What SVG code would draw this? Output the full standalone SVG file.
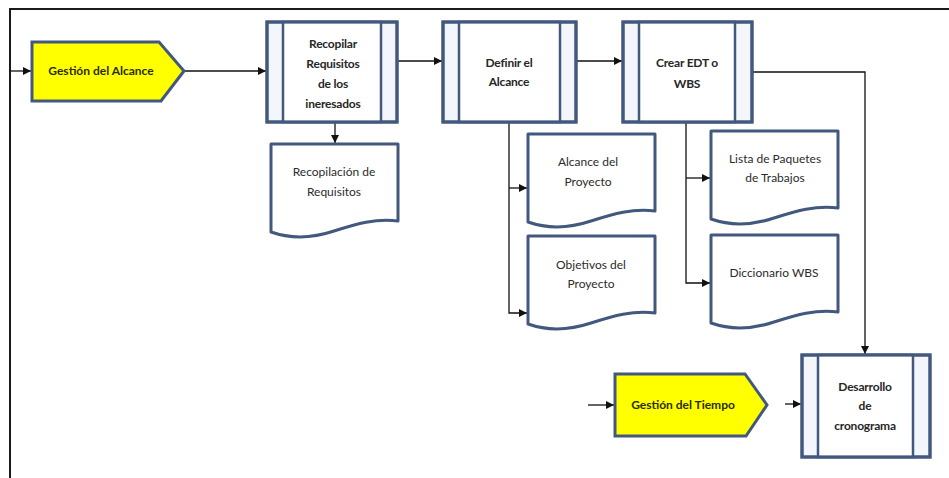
<svg xmlns="http://www.w3.org/2000/svg" width="949" height="478" viewBox="0 0 949 478">
  <style>
    .frame { stroke: #1a1a1a; stroke-width: 2; fill: none; }
    .pent { fill: #ffff00; stroke: #42587e; stroke-width: 3; stroke-linejoin: miter; }
    .proc { fill: #f3f7fc; stroke: #42587e; stroke-width: 3; }
    .inner { fill: #ffffff; stroke: #42587e; stroke-width: 2.5; }
    .edge { fill: none; stroke: #42587e; stroke-width: 3; }
    .doc { fill: #ffffff; stroke: #42587e; stroke-width: 3; stroke-linejoin: round; }
    .conn { fill: none; stroke: #111111; stroke-width: 1.3; }
    text { font-family: Lato, "Liberation Sans", sans-serif; font-size: 12px; text-anchor: middle; fill: #2b2b2b; }
    .b { font-weight: bold; fill: #262626; letter-spacing: -0.2px; }
    .tag { font-weight: bold; fill: #2b2b00; }
  </style>
  <defs>
    <marker id="arr" viewBox="0 0 10 10" refX="10" refY="5" markerWidth="8" markerHeight="8" markerUnits="userSpaceOnUse" orient="auto">
      <path d="M0,0 L10,5 L0,10 Z" fill="#111111"/>
    </marker>
    <!-- document shape, 127 wide with a wavy bottom -->
    <path id="docShape" d="M0,0 H127 V77 C105,74 85,80 63,87 C42,94 20,95 0,88 Z"/>
  </defs>

  <rect width="949" height="478" fill="#ffffff"/>
  <path class="frame" d="M10,478 V9 H949"/>

  <g id="connectors">
    <path class="conn" marker-end="url(#arr)" d="M10,71 H31"/>
    <path class="conn" marker-end="url(#arr)" d="M185,71 H266"/>
    <path class="conn" marker-end="url(#arr)" d="M398,61 H442"/>
    <path class="conn" marker-end="url(#arr)" d="M577,61 H622"/>
    <path class="conn" marker-end="url(#arr)" d="M753,72 H865 V354"/>
    <path class="conn" marker-end="url(#arr)" d="M335,123 V143"/>
    <path class="conn" marker-end="url(#arr)" d="M509,123 V313 H527"/>
    <path class="conn" marker-end="url(#arr)" d="M509,188 H527"/>
    <path class="conn" marker-end="url(#arr)" d="M686,123 V283 H710"/>
    <path class="conn" marker-end="url(#arr)" d="M686,178 H710"/>
    <path class="conn" marker-end="url(#arr)" d="M588,405 H614"/>
    <path class="conn" marker-end="url(#arr)" d="M785,404 H801"/>
  </g>

  <g id="gestion-alcance">
    <path class="pent" d="M32,42 H159 L184,71 L161,101 H32 Z"/>
    <text class="tag" x="101" y="75">Gestión del Alcance</text>
  </g>

  <g id="recopilar">
    <rect class="proc" x="267" y="22" width="130" height="100"/>
    <rect class="inner" x="283" y="22" width="98" height="100"/>
    <rect class="edge" x="267" y="22" width="130" height="100"/>
    <text class="b" x="333" y="48">Recopilar</text>
    <text class="b" x="333" y="68">Requisitos</text>
    <text class="b" x="333" y="88">de los</text>
    <text class="b" x="333" y="108">ineresados</text>
  </g>

  <g id="definir">
    <rect class="proc" x="443" y="22" width="133" height="100"/>
    <rect class="inner" x="459" y="22" width="101" height="100"/>
    <rect class="edge" x="443" y="22" width="133" height="100"/>
    <text class="b" x="509" y="67">Definir el</text>
    <text class="b" x="509" y="86">Alcance</text>
  </g>

  <g id="crear">
    <rect class="proc" x="623" y="22" width="129" height="100"/>
    <rect class="inner" x="639" y="22" width="96" height="100"/>
    <rect class="edge" x="623" y="22" width="129" height="100"/>
    <text class="b" x="687" y="67">Crear EDT o</text>
    <text class="b" x="687" y="88">WBS</text>
  </g>

  <g id="recopilacion">
    <use href="#docShape" class="doc" transform="translate(271,144)"/>
    <text x="334" y="176">Recopilación de</text>
    <text x="334" y="196">Requisitos</text>
  </g>

  <g id="alcance-proyecto">
    <use href="#docShape" class="doc" transform="translate(528,134)"/>
    <text x="588" y="166">Alcance del</text>
    <text x="588" y="186">Proyecto</text>
  </g>

  <g id="objetivos-proyecto">
    <use href="#docShape" class="doc" transform="translate(528,236)"/>
    <text x="591" y="269">Objetivos del</text>
    <text x="591" y="288">Proyecto</text>
  </g>

  <g id="lista-paquetes">
    <use href="#docShape" class="doc" transform="translate(711,131)"/>
    <text x="775" y="163">Lista de Paquetes</text>
    <text x="775" y="182">de Trabajos</text>
  </g>

  <g id="diccionario">
    <use href="#docShape" class="doc" transform="translate(711,235)"/>
    <text x="774" y="277">Diccionario WBS</text>
  </g>

  <g id="gestion-tiempo">
    <path class="pent" d="M615,374 H745 L767,405 L746,436 H615 Z"/>
    <text class="tag" x="683" y="409">Gestión del Tiempo</text>
  </g>

  <g id="desarrollo">
    <rect class="proc" x="802" y="355" width="128" height="102"/>
    <rect class="inner" x="818" y="355" width="95" height="102"/>
    <rect class="edge" x="802" y="355" width="128" height="102"/>
    <text class="b" x="865" y="391">Desarrollo</text>
    <text class="b" x="865" y="410">de</text>
    <text class="b" x="865" y="430">cronograma</text>
  </g>
</svg>
